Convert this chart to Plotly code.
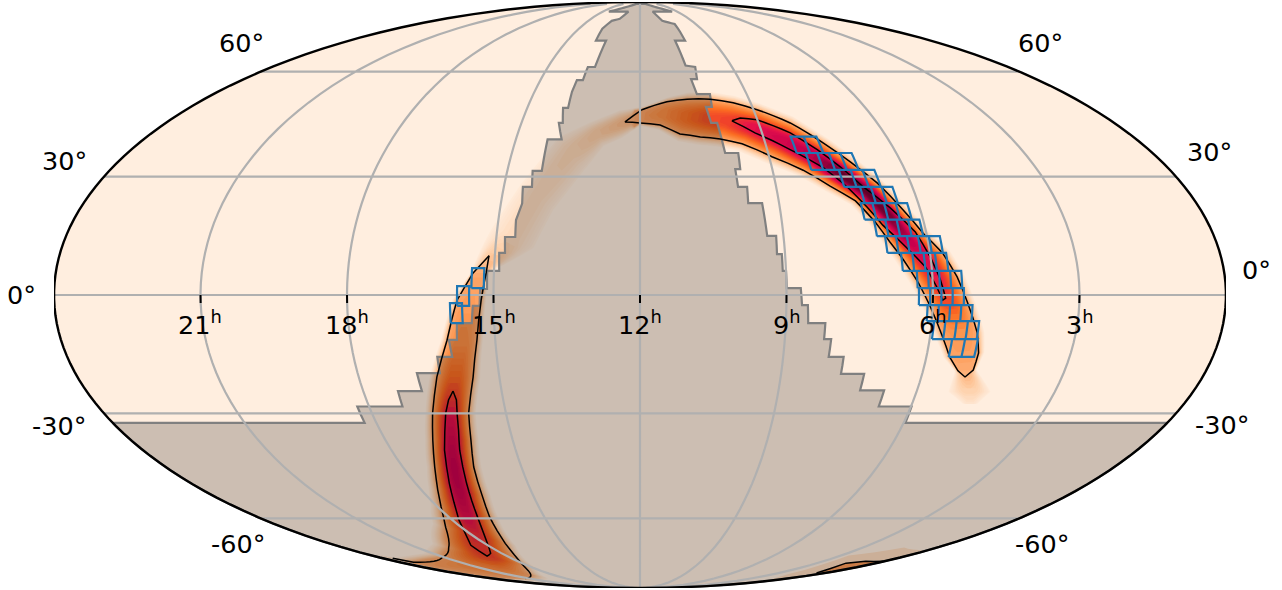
import numpy as np
import plotly.graph_objects as go

# ---------- sky data: longitude = (12h - RA) in degrees, latitude = declination ----------
# Credible band, running from its southern tail over the arc and down to the far south.
band_up_lon = [111.2, 112.5, 105.9, 106.1, 104.5, 100.7, 97.6, 93.9, 88.9, 84.4, 78.9, 72.5, 65.9, 57.0, 46.4, 37.9, 29.0, 19.5, 11.0, 0.8,
               -7.8, -18.1, -28.6, -38.4, -45.0,
               -51.4, -56.2, -60.0, -65.0, -69.6, -73.3, -77.9, -83.2, -88.5, -97.9, -115.9, -136.0, -169.5, -173.0]
band_up_lat = [-27.5, -24.4, -18.8, -14.5, -9.5, -2.0, 4.5, 10.5, 15.5, 21.4, 28.3, 33.9, 39.0, 44.6, 48.4, 50.4, 51.5, 51.5, 50.7, 48.4,
               47.2, 44.0, 39.6, 27.3, 16.8,
               5.5, -1.3, -11.3, -20.6, -29.9, -37.2, -44.6, -51.2, -56.4, -62.9, -70.0, -73.7, -75.7, -74.1]
band_lo_lon = [107.2, 102.0, 101.1, 97.3, 93.6, 89.0, 85.6, 81.5, 78.0, 74.5, 69.9, 62.9, 55.4, 46.0, 36.6, 29.1, 22.0, 14.7, 7.6, 0.0,
               -6.6, -13.7, -20.2, -29.0, -34.5,
               -47.4, -48.8, -50.7, -53.4, -57.5, -59.8, -63.1, -66.4, -70.8, -78.1, -92.7, -114.4, -139.0, -170.0]
band_lo_lat = [-27.5, -24.4, -19.0, -15.5, -10.0, -2.5, 3.0, 8.8, 13.3, 18.4, 23.7, 27.5, 31.7, 35.3, 38.8, 40.1, 40.7, 41.5, 44.0, 44.6,
               41.5, 39.0, 32.6, 22.1, 12.3,
               5.5, -1.3, -11.3, -20.6, -29.9, -37.2, -44.6, -52.7, -59.6, -68.5, -76.9, -81.5, -83.2, -82.6]
band_peak = [0.12, 0.20, 0.33, 0.36, 0.40, 0.60, 0.70, 0.76, 0.85, 0.95, 0.97, 0.98, 0.85, 0.78, 0.72, 0.62, 0.58, 0.50, 0.42, 0.36,
             0.27, 0.22, 0.17, 0.15, 0.15,
             0.34, 0.37, 0.42, 0.54, 0.72, 0.78, 0.82, 0.80, 0.75, 0.66, 0.62, 0.45, 0.38, 0.33]

# Outer contour tips and inner contours
north_tip = (-5.7, 44.9)
south_tip = (104.0, -20.6)
west_tip = (-46.8, 9.8)

inner_main_lon = [35.1, 38.6, 44.8, 55.4, 62.7, 68.4, 73.8, 80.5, 86.6, 89.9, 92.4, 93.9, 93.0, 91.2, 88.1, 83.0, 76.8, 73.1, 68.5, 62.6, 53.1, 42.4, 35.1]
inner_main_lat = [45.2, 46.0, 45.5, 41.8, 37.2, 32.6, 27.3, 21.9, 15.8, 9.5, 3.8, -0.8, -1.3, 2.0, 7.0, 11.8, 17.5, 22.1, 27.3, 32.3, 37.2, 41.8, 45.2]
inner_left_lon = [-60.8, -63.0, -65.2, -70.8, -76.4, -86.8, -100.0, -103.7, -97.3, -91.5, -76.5, -69.5, -65.3, -62.8, -60.4, -60.8]
inner_left_lat = [-24.2, -26.5, -29.9, -39.9, -49.2, -60.5, -69.2, -73.3, -72.2, -70.0, -59.6, -49.2, -39.9, -34.4, -26.5, -24.2]

# Small separate lobe at the south edge of the map
lobe_lon = [172.0, 157.0, 166.0, 179.0, 179.6, 179.6]
lobe_lat = [-80.5, -76.1, -75.3, -75.3, -78.0, -80.0]
lobe_halo_lon = [150.0, 140.0, 160.0, 179.0, 179.6, 170.0]
lobe_halo_lat = [-81.0, -73.0, -70.0, -71.0, -82.0, -84.0]

# Region that is not observable (ring, west to east)
mask_lon = [-179.9, -94.0, -93.9, -78.9, -78.7, -70.9, -71.1, -63.8, -63.7, -59.0, -59.4, -56.9, -56.5, -51.9, -51.4, -49.3, -49.1, -47.0,
            -47.1, -43.4, -43.7, -41.9, -42.3, -39.1, -39.4, -38.1, -38.7, -35.7, -36.4, -33.3, -33.5, -28.4, -30.8, -29.3, -30.7, -28.7,
            -29.0, -28.5, -25.8, -25.5, -22.0, -21.0, -27.3, -27.7, -24.6, -18.6, -14.0, -37.8, -10.0,
            15.0, 39.0, 15.3, 19.4, 28.0, 28.0, 27.9, 21.7, 22.5, 27.0, 25.9, 23.2, 24.0, 29.5, 28.8, 26.4, 27.0, 29.3, 29.9, 34.5, 34.1, 32.4,
            32.4, 35.4, 35.0, 39.5, 39.9, 42.7, 42.5, 44.0, 44.0, 45.0, 45.1, 49.4, 49.8, 51.6, 51.9, 57.2, 57.2, 59.4, 59.3, 64.0, 64.1, 71.5,
            71.5, 79.3, 79.3, 90.2, 90.6, 179.9]
mask_lat = [-32.5, -32.5, -28.2, -28.2, -24.2, -24.2, -19.6, -19.6, -15.5, -15.5, -11.2, -11.2, -7.0, -7.0, -2.7, -2.7, 1.5, 1.5,
            6.0, 6.0, 10.5, 10.5, 14.5, 14.5, 18.8, 23.0, 27.3, 27.3, 31.5, 31.5, 40.0, 40.0, 44.6, 44.6, 48.9, 48.9,
            53.7, 57.3, 57.3, 61.5, 61.5, 70.7, 70.7, 75.3, 78.7, 79.6, 83.2, 83.2, 88.0,
            88.0, 83.2, 83.2, 78.7, 77.3, 74.0, 70.7, 70.7, 62.0, 61.5, 57.6, 57.6, 53.0, 53.0, 49.2, 49.2, 44.6, 44.6, 36.3, 36.3, 32.0, 32.0,
            27.3, 27.3, 23.1, 23.1, 14.8, 14.8, 10.2, 10.2, 6.0, 6.0, 1.7, 1.7, -2.5, -2.5, -7.0, -7.0, -11.0, -11.0, -15.5, -15.5, -19.8, -19.8,
            -24.0, -24.0, -28.2, -28.2, -32.5, -32.5]

# Observed tiles: row south edge, row north edge, first and last longitude, tiles in the row
tile_south = [36.3, 31.8, 27.3, 23.1, 18.9, 14.7, 10.5, 6.0, 1.7, -2.5, -6.5, -11.0, -15.5, 1.7, -2.7, -7.0]
tile_north = [40.8, 36.3, 31.8, 27.3, 23.1, 18.9, 14.7, 10.5, 6.0, 1.7, -2.5, -6.5, -11.0, 6.7, 2.2, -2.0]
tile_start = [55.0, 58.2, 67.5, 72.7, 71.4, 74.3, 76.8, 81.0, 85.3, 85.7, 88.4, 90.7, 97.0, -51.8, -56.2, -58.4]
tile_end = [64.4, 74.3, 79.6, 83.4, 86.4, 88.8, 94.0, 95.0, 99.0, 99.5, 102.2, 104.6, 105.0, -48.0, -52.5, -54.7]
tile_count = [2, 4, 3, 3, 4, 4, 5, 4, 4, 4, 4, 4, 2, 1, 1, 1]

# Axis content
ra_hours = [21, 18, 15, 12, 9, 6, 3]
ra_labels = ["21<sup>h</sup>", "18<sup>h</sup>", "15<sup>h</sup>", "12<sup>h</sup>", "9<sup>h</sup>", "6<sup>h</sup>", "3<sup>h</sup>"]
dec_labels = ["60°", "30°", "0°", "-30°", "-60°"]

# Colour ramp of the probability map
ramp_value = [0.00, 0.10, 0.20, 0.30, 0.40, 0.50, 0.60, 0.70, 0.80, 0.90, 1.00]
ramp_rgb = [(255, 238, 223), (254, 227, 204), (254, 207, 168), (253, 176, 120), (253, 143, 69), (251, 109, 34),
            (240, 66, 42), (229, 18, 74), (200, 0, 78), (138, 0, 56), (74, 0, 32)]
levels = [round(0.04 + 0.02 * i, 2) for i in range(48)]
CONTOUR_LEVEL = 0.33
HALO = 0.45


def colour(v):
    r = np.interp(v, ramp_value, [c[0] for c in ramp_rgb])
    g = np.interp(v, ramp_value, [c[1] for c in ramp_rgb])
    b = np.interp(v, ramp_value, [c[2] for c in ramp_rgb])
    return f"rgb({r:.0f},{g:.0f},{b:.0f})"


def spread(peak, level):
    """Fraction of the contour half-width at which the band falls to `level`."""
    out = np.zeros_like(peak)
    for i, p in enumerate(peak):
        if p <= level:
            continue
        if p < CONTOUR_LEVEL:
            out[i] = (1 + HALO) * np.sqrt((p - level) / p)
        elif level < CONTOUR_LEVEL:
            out[i] = 1 + HALO * (CONTOUR_LEVEL - level) / CONTOUR_LEVEL
        else:
            out[i] = np.sqrt(np.log(p / level) / np.log(p / CONTOUR_LEVEL))
    return out


def band_ring(level):
    idx = np.arange(len(band_peak))
    fine = np.linspace(0, len(band_peak) - 1, (len(band_peak) - 1) * 6 + 1)
    peak = np.interp(fine, idx, band_peak)
    ulon, ulat = np.interp(fine, idx, band_up_lon), np.interp(fine, idx, band_up_lat)
    llon, llat = np.interp(fine, idx, band_lo_lon), np.interp(fine, idx, band_lo_lat)
    clon, clat = (ulon + llon) / 2, (ulat + llat) / 2
    inside = peak > level
    t = spread(peak, level)
    lons, lats = [], []
    i = 0
    while i < len(fine):
        if not inside[i]:
            i += 1
            continue
        j = i
        while j + 1 < len(fine) and inside[j + 1]:
            j += 1
        a = np.arange(i, j + 1)
        xl = np.clip(clon[a] + t[a] * (llon[a] - clon[a]), -179.9, 179.9)
        yl = np.clip(clat[a] + t[a] * (llat[a] - clat[a]), -89.5, 89.5)
        xu = np.clip(clon[a] + t[a] * (ulon[a] - clon[a]), -179.9, 179.9)
        yu = np.clip(clat[a] + t[a] * (ulat[a] - clat[a]), -89.5, 89.5)
        lons += list(xl) + list(xu[::-1]) + [xl[0], None]
        lats += list(yl) + list(yu[::-1]) + [yl[0], None]
        i = j + 1
    return lons, lats


def along_edges(lon, lat, step=2.0):
    out_x, out_y = [], []
    for k in range(len(lon) - 1):
        n = max(int(max(abs(lon[k + 1] - lon[k]), abs(lat[k + 1] - lat[k])) / step), 1)
        for f in range(n):
            out_x.append(lon[k] + (lon[k + 1] - lon[k]) * f / n)
            out_y.append(lat[k] + (lat[k + 1] - lat[k]) * f / n)
    out_x.append(lon[-1])
    out_y.append(lat[-1])
    return out_x, out_y


def fill_trace(lon, lat, color, line=None):
    return go.Scattergeo(lon=lon, lat=lat, mode="lines", fill="toself", fillcolor=color,
                         line=line or dict(width=0, color=color), hoverinfo="skip", showlegend=False)


def line_trace(lon, lat, color, width):
    return go.Scattergeo(lon=lon, lat=lat, mode="lines", line=dict(color=color, width=width),
                         hoverinfo="skip", showlegend=False)


fig = go.Figure()

# Whole sky background
sx, sy = along_edges([-179.99, -179.99, 179.99, 179.99, -179.99], [-89.99, 89.99, 89.99, -89.99, -89.99])
fig.add_trace(fill_trace(sx, sy, "#FFEEDF"))

# Probability map, lightest level first
for lv in levels:
    x, y = band_ring(lv)
    if x:
        fig.add_trace(fill_trace(x, y, colour(lv)))
fig.add_trace(fill_trace(lobe_halo_lon + lobe_halo_lon[:1], lobe_halo_lat + lobe_halo_lat[:1], colour(0.14)))
fig.add_trace(fill_trace(lobe_lon + lobe_lon[:1], lobe_lat + lobe_lat[:1], colour(0.36)))

# Unobservable region over the map
mx, my = along_edges(mask_lon, mask_lat)
fig.add_trace(fill_trace(mx, my, "rgba(0,0,0,0.2)", dict(color="#808080", width=2.2)))

# Contours
main_u_x = [south_tip[0]] + band_up_lon[2:20] + [north_tip[0]]
main_u_y = [south_tip[1]] + band_up_lat[2:20] + [north_tip[1]]
main_l_x = [north_tip[0]] + band_lo_lon[2:20][::-1] + [south_tip[0]]
main_l_y = [north_tip[1]] + band_lo_lat[2:20][::-1] + [south_tip[1]]
fig.add_trace(line_trace(main_u_x + main_l_x, main_u_y + main_l_y, "black", 1.5))
fig.add_trace(line_trace([west_tip[0]] + band_up_lon[25:39], [west_tip[1]] + band_up_lat[25:39], "black", 1.5))
fig.add_trace(line_trace([west_tip[0]] + band_lo_lon[25:38], [west_tip[1]] + band_lo_lat[25:38], "black", 1.5))
fig.add_trace(line_trace(inner_main_lon, inner_main_lat, "black", 1.5))
fig.add_trace(line_trace(inner_left_lon, inner_left_lat, "black", 1.5))
fig.add_trace(line_trace(lobe_lon[:4], lobe_lat[:4], "black", 1.5))

# Graticule above everything in the map
grid_x, grid_y = [], []
for m in [-135, -90, -45, 0, 45, 90, 135]:
    pts = np.arange(-89.5, 90, 2.5)
    grid_x += [m] * len(pts) + [None]
    grid_y += list(pts) + [None]
for p in [-60, -30, 0, 30, 60]:
    pts = np.arange(-180, 181, 5.0)
    grid_x += list(np.clip(pts, -179.99, 179.99)) + [None]
    grid_y += [p] * len(pts) + [None]
fig.add_trace(line_trace(grid_x, grid_y, "#B0B0B0", 2.2))

# Tiles
tx, ty = [], []
for s, n, a, b, c in zip(tile_south, tile_north, tile_start, tile_end, tile_count):
    edges = np.linspace(a, b, c + 1)
    for w, e in zip(edges[:-1], edges[1:]):
        xs, ys = along_edges([w, e, e, w, w], [s, s, n, n, s], 1.0)
        tx += xs + [None]
        ty += ys + [None]
fig.add_trace(line_trace(tx, ty, "#1F77B4", 2.2))

# Hour ticks on the equator
ra_lon = [(12 - h) * 15 for h in ra_hours]
tick_x, tick_y = [], []
for lo in ra_lon:
    tick_x += [lo, lo, None]
    tick_y += [0, -2.0, None]
fig.add_trace(line_trace(tick_x, tick_y, "black", 2))

# Map outline
fig.add_trace(line_trace(sx, sy, "black", 2.4))

W, H = 1282, 590
label_pos = {"60°": [(241, 43), (1040, 43)], "30°": [(64, 161), (1209, 152)], "0°": [(21, 295), (1256, 270)],
             "-30°": [(59, 426), (1222, 425)], "-60°": [(238, 544), (1042, 544)]}
annotations = []
for lab in dec_labels:
    for px, py in label_pos[lab]:
        annotations.append(dict(text=lab, x=px / W, y=1 - py / H, xref="paper", yref="paper", showarrow=False,
                                xanchor="center", yanchor="middle",
                                font=dict(family="DejaVu Sans", size=25.5, color="black")))
hour_x = [200, 347, 494, 640, 787, 933, 1080]
for lab, px in zip(ra_labels, hour_x):
    annotations.append(dict(text=lab, x=px / W, y=1 - 323 / H, xref="paper", yref="paper", showarrow=False,
                            xanchor="center", yanchor="middle",
                            font=dict(family="DejaVu Sans", size=25.5, color="black")))

fig.update_layout(
    width=W, height=H, margin=dict(l=0, r=0, t=0, b=0), paper_bgcolor="white", annotations=annotations,
    geo=dict(
        projection_type="mollweide", domain=dict(x=[54 / W, 1226 / W], y=[2 / H, 588 / H]),
        bgcolor="white", showocean=False, showland=False, showlakes=False,
        showcoastlines=False, showcountries=False, showrivers=False, showsubunits=False,
        showframe=False,
        lonaxis=dict(showgrid=False), lataxis=dict(showgrid=False),
    ),
)

fig.write_html("out.html", config=dict(displayModeBar=False), post_script="document.body.style.margin='0';")
